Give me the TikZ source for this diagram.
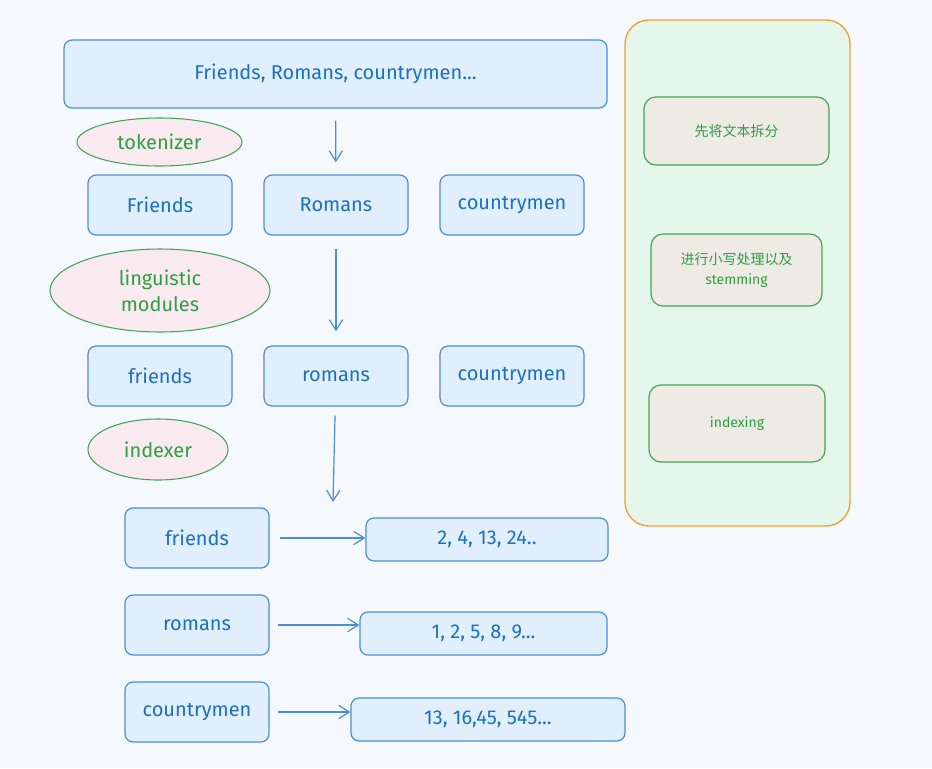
\documentclass[tikz,border=0pt]{standalone}
\usepackage{fontspec}
\setmainfont{Fira Sans}
\newfontfamily\cjk{Noto Sans CJK SC}
\usetikzlibrary{arrows.meta,shapes.geometric}

\definecolor{pagebg}{HTML}{F5F9FE}
\definecolor{inkblue}{HTML}{1971C2}
\definecolor{lineblue}{HTML}{4A8FD6}
\definecolor{fillblue}{HTML}{E1EEFB}
\definecolor{inkgreen}{HTML}{2F9E44}
\definecolor{linegreen}{HTML}{45A35A}
\definecolor{fillpink}{HTML}{F8EAEE}
\definecolor{fillpanel}{HTML}{E4F7EA}
\definecolor{fillstep}{HTML}{EEEAE4}
\definecolor{lineorange}{HTML}{F0A12E}

\begin{document}
\begin{tikzpicture}[
  x=0.75pt, y=-0.75pt,
  box/.style={
    rectangle, rounded corners=6pt, draw=lineblue, fill=fillblue, line width=0.9pt,
    minimum width=108pt, minimum height=45pt, text=inkblue,
    font=\fontsize{15}{18}\selectfont, align=center
  },
  listbox/.style={box, minimum height=32.25pt},
  module/.style={
    ellipse, draw=linegreen, fill=fillpink, line width=0.8pt, inner sep=0pt,
    text=inkgreen, font=\fontsize{15}{19.5}\selectfont, align=center
  },
  stepbox/.style={
    rectangle, rounded corners=9pt, draw=linegreen, fill=fillstep, line width=0.9pt,
    text=inkgreen, font=\fontsize{10.5}{15}\selectfont, align=center
  },
  arrow/.style={-{Straight Barb[length=8pt,width=10pt]}, line width=0.9pt, lineblue}
]
\useasboundingbox (0,0) rectangle (932,768);
\fill[pagebg] (0,0) rectangle (932,768);

% Input text
\node[box, minimum width=407.25pt, minimum height=51pt] (text) at (335.5,74)
  {Friends, Romans, countrymen...};

% Tokens
\node[module, minimum width=123.75pt, minimum height=36pt] (tokenizer) at (159.5,142)
  {tokenizer};
\node[box] (friendsA) at (160,205) {Friends};
\node[box] (romansA) at (336,205) {Romans};
\node[box] (countrymenA) at (512,205) {countrymen};

% Normalised terms
\node[module, minimum width=165pt, minimum height=62.25pt] (linguistic) at (160,290.5)
  {linguistic\\modules};
\node[box] (friendsB) at (160,376) {friends};
\node[box] (romansB) at (336,376) {romans};
\node[box] (countrymenB) at (512,376) {countrymen};

% Inverted index
\node[module, minimum width=105pt, minimum height=45.75pt] (indexer) at (158,449.5)
  {indexer};
\node[box] (friendsC) at (197,538) {friends};
\node[box] (romansC) at (197,625) {romans};
\node[box] (countrymenC) at (197,712) {countrymen};
\node[listbox, minimum width=181.5pt] (postingsA) at (487,539.5) {2, 4, 13, 24..};
\node[listbox, minimum width=185.25pt] (postingsB) at (483.5,633.5) {1, 2, 5, 8, 9...};
\node[listbox, minimum width=205.5pt] (postingsC) at (488,719.5) {13, 16,45, 545...};
\coordinate (indexend) at (333,502);

% Steps panel (right)
\node[rectangle, rounded corners=18pt, draw=lineorange, fill=fillpanel, line width=1pt,
  minimum width=168.75pt, minimum height=379.5pt] (panel) at (737.5,273) {};
\node[stepbox, minimum width=138.75pt, minimum height=51pt] (split) at (736.5,131)
  {\cjk 先将文本拆分};
\node[stepbox, minimum width=128.25pt, minimum height=54pt] (lower) at (736.5,270)
  {{\cjk 进行小写处理以及}\\stemming};
\node[stepbox, minimum width=132pt, minimum height=57.75pt] (indexing) at (737,423.5)
  {indexing};

% Arrows
\draw[arrow, shorten <=9pt, shorten >=9pt] (text) -- (romansA);
\draw[arrow, shorten <=9.75pt, shorten >=10.5pt] (romansA) -- (romansB);
\draw[arrow, shorten <=6.75pt] (romansB) -- (indexend);
\draw[arrow, shorten <=7.5pt] (friendsC) -- (friendsC -| postingsA.west);
\draw[arrow, shorten <=6pt] (romansC) -- (romansC -| postingsB.west);
\draw[arrow, shorten <=6pt] (countrymenC) -- (countrymenC -| postingsC.west);
\end{tikzpicture}
\end{document}
